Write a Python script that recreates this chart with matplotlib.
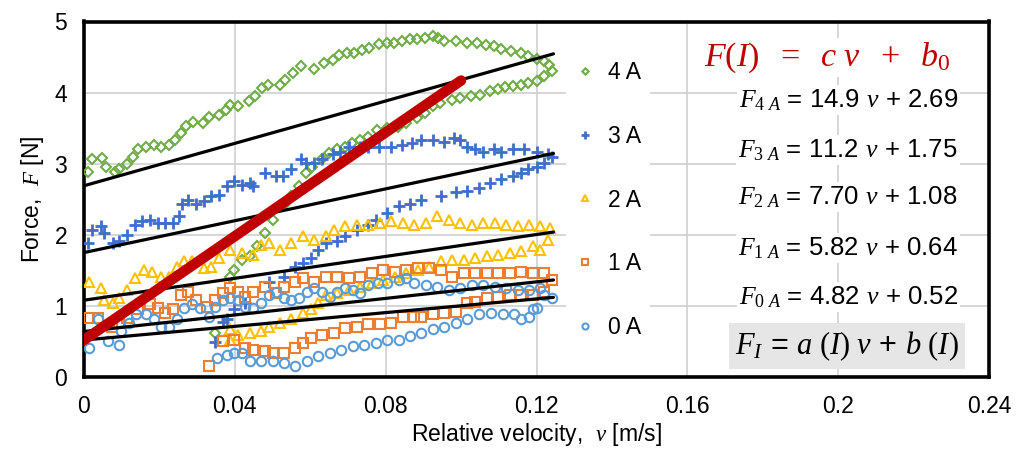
import matplotlib
matplotlib.use("Agg")
import matplotlib.pyplot as plt
import numpy as np

# ---------------- data ----------------
currents = ["4 A", "3 A", "2 A", "1 A", "0 A"]

v_4A = [0.001, 0.0022, 0.0048, 0.0058, 0.0083, 0.0093, 0.0114, 0.0129, 0.0144, 0.0164, 0.0185, 0.0205,
        0.0225, 0.024, 0.0256, 0.027, 0.029, 0.0316, 0.0332, 0.0357, 0.0377, 0.0387, 0.0408, 0.0438,
        0.0453, 0.0473, 0.0489, 0.0519, 0.0534, 0.0555, 0.0575, 0.061, 0.0636, 0.0661, 0.0676, 0.0697,
        0.0717, 0.0737, 0.0757, 0.0783, 0.0803, 0.0823, 0.0844, 0.0864, 0.0884, 0.0904, 0.0925, 0.094,
        0.0955, 0.0986, 0.1016, 0.1041, 0.1067, 0.1087, 0.1107, 0.1133, 0.1158, 0.1178, 0.12, 0.122,
        0.1234, 0.124,
        0.122, 0.12, 0.1178, 0.1158, 0.1138, 0.1117, 0.1097, 0.1077, 0.1051, 0.1026, 0.0996, 0.0975,
        0.0945, 0.0925, 0.0904, 0.0884, 0.0854, 0.0833, 0.0803, 0.0778, 0.0752, 0.0732, 0.0712, 0.0691,
        0.0671, 0.065, 0.063, 0.0605, 0.059, 0.057, 0.055, 0.053, 0.05, 0.048, 0.0459, 0.0439, 0.0418,
        0.0398, 0.0388, 0.0347]
F_4A = [2.89, 3.07, 3.08, 2.96, 2.89, 2.92, 2.99, 3.1, 3.2, 3.24, 3.27, 3.24,
        3.27, 3.34, 3.43, 3.53, 3.58, 3.57, 3.66, 3.69, 3.76, 3.83, 3.81, 3.88,
        3.95, 4.06, 4.1, 4.11, 4.18, 4.27, 4.37, 4.33, 4.41, 4.46, 4.53, 4.56,
        4.55, 4.6, 4.63, 4.69, 4.7, 4.7, 4.73, 4.75, 4.75, 4.77, 4.8, 4.77,
        4.72, 4.73, 4.7, 4.7, 4.67, 4.65, 4.61, 4.58, 4.55, 4.51, 4.47, 4.44,
        4.39, 4.3,
        4.23, 4.16, 4.13, 4.11, 4.09, 4.08, 4.05, 4.02, 3.97, 3.95, 3.92, 3.9,
        3.85, 3.81, 3.71, 3.64, 3.57, 3.52, 3.5, 3.48, 3.38, 3.34, 3.29, 3.24,
        3.2, 3.15, 3.06, 2.96, 2.87, 2.68, 2.55, 2.42, 2.21, 2.02, 1.84, 1.7, 1.65,
        1.51, 1.41, 0.62]

v_3A = [0.001, 0.0022, 0.0045, 0.0053, 0.0078, 0.0093, 0.0114, 0.0134, 0.0154, 0.0175, 0.0195, 0.0215,
        0.0236, 0.0251, 0.0261, 0.0276, 0.0296, 0.0317, 0.0337, 0.0357, 0.0378, 0.0398, 0.0418, 0.0439,
        0.0448, 0.0479, 0.051, 0.0529, 0.055, 0.0575, 0.059, 0.061, 0.063, 0.0661, 0.068, 0.0702,
        0.0732, 0.0752, 0.0783, 0.0813, 0.0844, 0.0869, 0.0894, 0.0925, 0.0955, 0.098, 0.0996, 0.1016,
        0.1036, 0.1057, 0.1087, 0.1107, 0.1138, 0.1168, 0.12, 0.123, 0.124,
        0.122, 0.12, 0.1178, 0.1158, 0.1138, 0.1107, 0.1077, 0.1048, 0.1016, 0.0986, 0.0946, 0.0895,
        0.0865, 0.0835, 0.0804, 0.0774, 0.0753, 0.0723, 0.0692, 0.0672, 0.0642, 0.0621, 0.0601, 0.0581,
        0.056, 0.053, 0.049, 0.0428, 0.0398, 0.0378, 0.0369, 0.0347]
F_3A = [1.88, 2.07, 2.12, 2.02, 1.88, 1.91, 2.0, 2.14, 2.19, 2.21, 2.17, 2.16,
        2.16, 2.26, 2.44, 2.49, 2.44, 2.47, 2.54, 2.56, 2.68, 2.75, 2.7, 2.73,
        2.68, 2.87, 2.82, 2.82, 2.92, 3.06, 3.01, 3.01, 3.06, 3.13, 3.17, 3.24,
        3.24, 3.24, 3.24, 3.24, 3.27, 3.29, 3.33, 3.34, 3.31, 3.36, 3.34, 3.24,
        3.2, 3.17, 3.2, 3.17, 3.2, 3.2, 3.17, 3.13, 3.1,
        3.01, 2.96, 2.92, 2.87, 2.82, 2.78, 2.73, 2.66, 2.62, 2.6, 2.54, 2.49,
        2.44, 2.4, 2.3, 2.21, 2.14, 2.07, 1.98, 1.91, 1.88, 1.79, 1.67, 1.6,
        1.55, 1.41, 1.33, 1.04, 0.95, 0.81, 0.77, 0.49]

v_2A = [0.0014, 0.0045, 0.0053, 0.0078, 0.0093, 0.0114, 0.0134, 0.0159, 0.018, 0.0205, 0.0225, 0.0246,
        0.0266, 0.0286, 0.0317, 0.0337, 0.0357, 0.0388, 0.0418, 0.0449, 0.0469, 0.049, 0.052, 0.055,
        0.0581, 0.0611, 0.0642, 0.0662, 0.0692, 0.0723, 0.0753, 0.0784, 0.0814, 0.0845, 0.0875, 0.0906,
        0.0936, 0.0967, 0.0997, 0.1028, 0.1058, 0.1089, 0.1119, 0.115, 0.118, 0.121, 0.1236,
        0.123, 0.121, 0.119, 0.116, 0.1129, 0.1099, 0.1068, 0.1038, 0.1007, 0.0977, 0.0946, 0.0916,
        0.0885, 0.0855, 0.0824, 0.0794, 0.0763, 0.0733, 0.0703, 0.0672, 0.0642, 0.0621, 0.0601, 0.0581,
        0.055, 0.052, 0.049, 0.0469, 0.0439, 0.0408, 0.0388, 0.0388]
F_2A = [1.34, 1.25, 1.09, 1.04, 1.11, 1.23, 1.39, 1.51, 1.48, 1.41, 1.41, 1.55,
        1.63, 1.63, 1.53, 1.55, 1.67, 1.79, 1.74, 1.72, 1.86, 1.88, 1.79, 1.88,
        1.98, 1.93, 1.98, 2.07, 2.12, 2.14, 2.14, 2.16, 2.19, 2.16, 2.14, 2.16,
        2.26, 2.21, 2.16, 2.14, 2.16, 2.16, 2.14, 2.12, 2.14, 2.12, 2.09,
        1.93, 1.79, 1.84, 1.77, 1.74, 1.72, 1.7, 1.67, 1.65, 1.65, 1.63, 1.55,
        1.51, 1.46, 1.41, 1.37, 1.32, 1.27, 1.23, 1.18, 1.16, 1.04, 0.95, 0.9,
        0.81, 0.76, 0.71, 0.64, 0.62, 0.59, 0.67, 0.52]

v_1A = [0.0014, 0.0038, 0.0073, 0.0093, 0.0114, 0.0144, 0.0175, 0.0195, 0.0215, 0.0236, 0.0256, 0.0276,
        0.0297, 0.0327, 0.0347, 0.0368, 0.0388, 0.0408, 0.0428, 0.0449, 0.0479, 0.051, 0.053, 0.056,
        0.058, 0.061, 0.0642, 0.0672, 0.0703, 0.0733, 0.0763, 0.0794, 0.0824, 0.0855, 0.0885, 0.0916,
        0.0946, 0.0977, 0.1007, 0.1038, 0.1068, 0.1099, 0.1129, 0.116, 0.119, 0.122, 0.124,
        0.122, 0.119, 0.116, 0.1129, 0.1099, 0.1068, 0.1038, 0.1017, 0.0987, 0.0956, 0.0926, 0.0895,
        0.0875, 0.0845, 0.0814, 0.0784, 0.0753, 0.0723, 0.0692, 0.0662, 0.0631, 0.0601, 0.0581, 0.056,
        0.053, 0.05, 0.0479, 0.0449, 0.0428, 0.0398, 0.0368, 0.0332]
F_1A = [0.83, 0.83, 0.71, 0.76, 0.83, 0.95, 1.02, 0.97, 0.9, 0.95, 1.16, 1.2,
        1.09, 0.99, 1.09, 1.18, 1.25, 1.2, 1.13, 1.2, 1.27, 1.18, 1.27, 1.34,
        1.39, 1.34, 1.41, 1.41, 1.39, 1.41, 1.46, 1.51, 1.48, 1.51, 1.53, 1.53,
        1.51, 1.41, 1.46, 1.46, 1.46, 1.46, 1.46, 1.48, 1.46, 1.46, 1.37,
        1.2, 1.16, 1.16, 1.16, 1.13, 1.11, 1.06, 1.04, 0.92, 0.9, 0.88, 0.85,
        0.85, 0.85, 0.76, 0.74, 0.74, 0.71, 0.69, 0.62, 0.59, 0.55, 0.48, 0.41,
        0.34, 0.34, 0.36, 0.38, 0.41, 0.52, 0.5, 0.15]

v_0A = [0.0014, 0.0038, 0.0063, 0.0093, 0.0098, 0.0119, 0.0139, 0.0164, 0.0185, 0.0205, 0.0225, 0.0246,
        0.0266, 0.0286, 0.0307, 0.0332, 0.0347, 0.0368, 0.0388, 0.0408, 0.0428, 0.0449, 0.0469, 0.049,
        0.051, 0.053, 0.055, 0.057, 0.0591, 0.0611, 0.0632, 0.0652, 0.0672, 0.0692, 0.0713, 0.0733,
        0.0753, 0.0779, 0.0804, 0.0835, 0.0855, 0.0875, 0.0906, 0.0936, 0.0967, 0.0997, 0.1028, 0.1058,
        0.1089, 0.1119, 0.115, 0.118, 0.121, 0.124,
        0.122, 0.12, 0.119, 0.118, 0.116, 0.114, 0.111, 0.108, 0.1048, 0.1017, 0.0987, 0.0956, 0.0926,
        0.0895, 0.0865, 0.0835, 0.0804, 0.0774, 0.0743, 0.0713, 0.0682, 0.0652, 0.0621, 0.0591, 0.056,
        0.053, 0.05, 0.0469, 0.0439, 0.0418, 0.0398, 0.0378, 0.0352]
F_0A = [0.41, 0.81, 0.5, 0.45, 0.64, 0.76, 0.88, 0.88, 0.81, 0.71, 0.71, 0.81,
        0.97, 1.02, 0.97, 0.85, 0.99, 1.09, 1.11, 1.09, 0.99, 0.97, 1.04, 1.16,
        1.2, 1.11, 1.09, 1.11, 1.2, 1.25, 1.2, 1.13, 1.2, 1.25, 1.23, 1.18,
        1.3, 1.32, 1.32, 1.37, 1.39, 1.32, 1.3, 1.27, 1.23, 1.25, 1.3, 1.3,
        1.27, 1.25, 1.23, 1.23, 1.25, 1.11,
        1.16, 0.97, 0.95, 0.85, 0.81, 0.88, 0.88, 0.9, 0.88, 0.81, 0.76, 0.71, 0.67,
        0.62, 0.57, 0.52, 0.52, 0.48, 0.45, 0.43, 0.38, 0.34, 0.29, 0.22, 0.15,
        0.2, 0.22, 0.22, 0.22, 0.34, 0.34, 0.31, 0.27]

# linear fits F = a v + b  (order: 4A, 3A, 2A, 1A, 0A)
fit_a = [14.9, 11.2, 7.70, 5.82, 4.82]
fit_b = [2.69, 1.75, 1.08, 0.64, 0.52]
fit_v_range = [0.0, 0.1245]

# overall line F(I) = c v + b0
c_all = 36.5
b0_all = 0.52
all_v_range = [0.0, 0.1]

x_ticks = [0, 0.04, 0.08, 0.12, 0.16, 0.2, 0.24]
x_tick_labels = ["0", "0.04", "0.08", "0.12", "0.16", "0.2", "0.24"]
y_ticks = [0, 1, 2, 3, 4, 5]

# ---------------- style ----------------
plt.rcParams["font.family"] = ["Liberation Sans", "DejaVu Sans"]
plt.rcParams["mathtext.fontset"] = "custom"
plt.rcParams["mathtext.rm"] = "Liberation Serif"
plt.rcParams["mathtext.it"] = "Liberation Serif:italic"
plt.rcParams["mathtext.bf"] = "Liberation Serif:bold"

series = [
    (v_4A, F_4A, "D", "#70AD47", 5.0, 1.5),
    (v_3A, F_3A, "+", "#3F6FCB", 8.5, 2.0),
    (v_2A, F_2A, "^", "#FFC000", 7.5, 1.5),
    (v_1A, F_1A, "s", "#ED7D31", 6.8, 1.5),
    (v_0A, F_0A, "o", "#5B9BD5", 6.8, 1.5),
]

fig = plt.figure(figsize=(10.19, 4.53), dpi=100)
ax = fig.add_axes([84 / 1019, 1 - 377 / 453, (989 - 84) / 1019, (377 - 21.5) / 453])

handles = []
for (vv, ff, mk, col, ms, mew), lab in zip(series, currents):
    h, = ax.plot(vv, ff, linestyle="none", marker=mk, markersize=ms,
                 markerfacecolor="none", markeredgecolor=col, markeredgewidth=mew,
                 label=lab, zorder=3)
    handles.append(h)

for a, b in zip(fit_a, fit_b):
    vx = np.array(fit_v_range)
    ax.plot(vx, a * vx + b, color="black", lw=2.3, zorder=4, solid_capstyle="round")

vr = np.array(all_v_range)
ax.plot(vr, c_all * vr + b0_all, color="#C00000", lw=7.5, zorder=5, solid_capstyle="round")

ax.set_xlim(0, 0.24)
ax.set_ylim(0, 5)
ax.set_xticks(x_ticks)
ax.set_xticklabels(x_tick_labels)
ax.set_yticks(y_ticks)
ax.tick_params(length=0, labelsize=16.5)
ax.tick_params(axis="x", pad=13)
ax.tick_params(axis="y", pad=12)
ax.grid(True, color="#D0D0D0", lw=1.2, zorder=0)
ax.set_axisbelow(True)
for s in ax.spines.values():
    s.set_linewidth(2.6)
    s.set_color("black")

ax.set_xlabel("Relative velocity,  $v$ [m/s]", fontsize=16.5, labelpad=2)
ax.set_ylabel("Force,  $F$ [N]", fontsize=16.5, labelpad=6)

leg = ax.legend(handles=handles, loc="center left",
                bbox_to_anchor=(566 / 1019, 1 - 200 / 453), bbox_transform=fig.transFigure,
                fontsize=16.5, markerscale=0.65, handlelength=1.0, handletextpad=0.5,
                labelspacing=1.78, borderpad=0.35, borderaxespad=0, frameon=True,
                fancybox=False, framealpha=1, facecolor="white", edgecolor="none")
leg.set_zorder(6)

white = dict(facecolor="white", edgecolor="none", pad=1.5)
ax.text(0.1972, 4.49, r"$F(I)\ \ =\ \ c\ v\ \ +\ \ b_\mathit{0}$", color="#C00000",
        fontsize=24.5, ha="center", va="center", bbox=white, zorder=6)

eq_y = [3.9, 3.19, 2.53, 1.81, 1.125]
for cur, a, b, yy in zip(currents, fit_a, fit_b, eq_y):
    num = cur.split()[0]
    txt = r"$F_{\mathit{" + num + r"\ A}}$" + f" = {a:#.3g} " + r"$v$" + f" + {b:.2f}"
    ax.text(0.2317, yy, txt, fontsize=18.5, ha="right", va="center", bbox=white, zorder=6)

ax.text(0.2023, 0.436, r"$F_I$ = $a\ (I)\ v$ + $b\ (I)$", fontsize=22, ha="center", va="center",
        bbox=dict(facecolor="#E6E6E6", edgecolor="none", boxstyle="square,pad=0.2"), zorder=6)

fig.savefig("out.png", dpi=100)
